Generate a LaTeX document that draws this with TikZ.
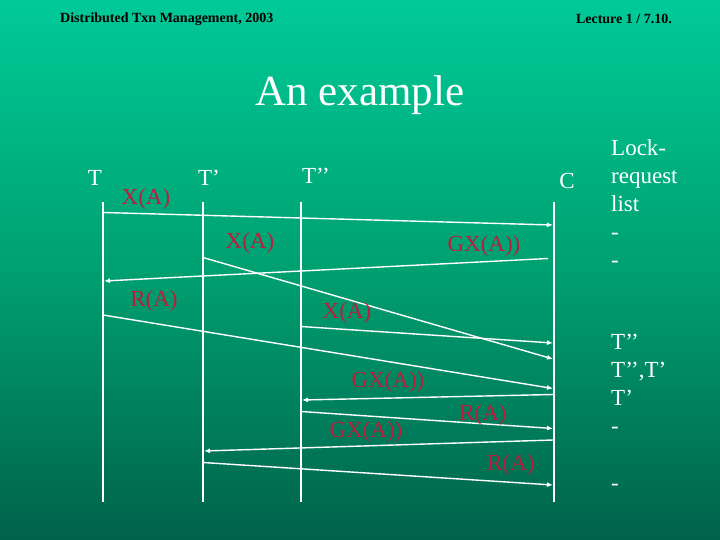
\documentclass[tikz,border=0pt]{standalone}
\usepackage{fontspec}
\setmainfont{Liberation Serif}
\usetikzlibrary{arrows.meta}
\definecolor{bgtop}{RGB}{0,202,152}
\definecolor{bgmid}{RGB}{0,160,112}
\definecolor{bgbot}{RGB}{0,98,74}
\definecolor{lbl}{RGB}{185,30,60}
\tikzset{
  life/.style={white, line width=2pt},
  msg/.style={white, line width=1.4pt, -{Latex[length=6pt,width=5pt]}},
  msglabel/.style={text=lbl, font=\fontsize{23}{23}\selectfont, inner sep=0pt},
  head/.style={text=white, font=\fontsize{23}{23}\selectfont, inner sep=0pt},
  sidetext/.style={text=white, font=\fontsize{23}{28}\selectfont, inner sep=0pt, anchor=west, align=left},
  hdr/.style={text=black, font=\bfseries\fontsize{14}{14}\selectfont, inner sep=0pt}
}
\begin{document}
\begin{tikzpicture}[x=1pt,y=-1pt]
\shade[top color=bgtop, bottom color=bgbot, middle color=bgmid] (0,0) rectangle (720,540);
\useasboundingbox (0,0) rectangle (720,540);

% header
\node[hdr, anchor=west] (hl) at (60,19) {Distributed Txn Management, 2003};
\node[hdr, anchor=east] (hr) at (672,19) {Lecture 1 / 7.10.};
\node[text=white, font=\fontsize{43}{43}\selectfont, inner sep=0pt] (title) at (360,95) {An example};

% lifeline heads
\node[head] (hT) at (95,178) {T};
\node[head] (hT1) at (209,178) {T’};
\node[head] (hT2) at (316,176) {T’’};
\node[head] (hC) at (567,181) {C};

% lifelines
\coordinate (Tt) at (103,202); \coordinate (Tb) at (103,502);
\coordinate (T1t) at (202.5,202); \coordinate (T1b) at (202.5,502);
\coordinate (T2t) at (301,202); \coordinate (T2b) at (301,502);
\coordinate (Ct) at (553.5,202); \coordinate (Cb) at (553.5,502);
\draw[life] (Tt) -- (Tb);
\draw[life] (T1t) -- (T1b);
\draw[life] (T2t) -- (T2b);
\draw[life] (Ct) -- (Cb);

% message endpoints
\coordinate (a1) at (103,212.5); \coordinate (b1) at (553,225);
\coordinate (a2) at (548,258.5); \coordinate (b2) at (104,281);
\coordinate (a3) at (203,257.5); \coordinate (b3) at (553,359);
\coordinate (a4) at (301,326.5); \coordinate (b4) at (553,343);
\coordinate (a5) at (103,315); \coordinate (b5) at (553,388.5);
\coordinate (a6) at (553,394.5); \coordinate (b6) at (302,400);
\coordinate (a7) at (301,411.5); \coordinate (b7) at (553,428.5);
\coordinate (a8) at (553,440); \coordinate (b8) at (204,451);
\coordinate (a9) at (203,462.5); \coordinate (b9) at (553,485);

\draw[msg] (a1) -- (b1);
\draw[msg] (a2) -- (b2);
\draw[msg] (a3) -- (b3);
\draw[msg] (a4) -- (b4);
\draw[msg] (a5) -- (b5);
\draw[msg] (a6) -- (b6);
\draw[msg] (a7) -- (b7);
\draw[msg] (a8) -- (b8);
\draw[msg] (a9) -- (b9);

% message labels
\node[msglabel] (l1) at (146,199) {X(A)};
\node[msglabel] (l2) at (484,246) {GX(A))};
\node[msglabel] (l3) at (250,243) {X(A)};
\node[msglabel] (l4) at (347,313) {X(A)};
\node[msglabel] (l5) at (154,301) {R(A)};
\node[msglabel] (l6) at (388,382) {GX(A))};
\node[msglabel] (l7) at (483,415) {R(A)};
\node[msglabel] (l8) at (366,432) {GX(A))};
\node[msglabel] (l9) at (511,465) {R(A)};

% lock-request list
\node[sidetext] (lr) at (611,204) {Lock-\\request\\list\\-\\-};
\node[sidetext] (lr2) at (611,384) {T’’\\T’’,T’\\T’\\-};
\node[sidetext] (lr3) at (611,487) {-};
\end{tikzpicture}
\end{document}
